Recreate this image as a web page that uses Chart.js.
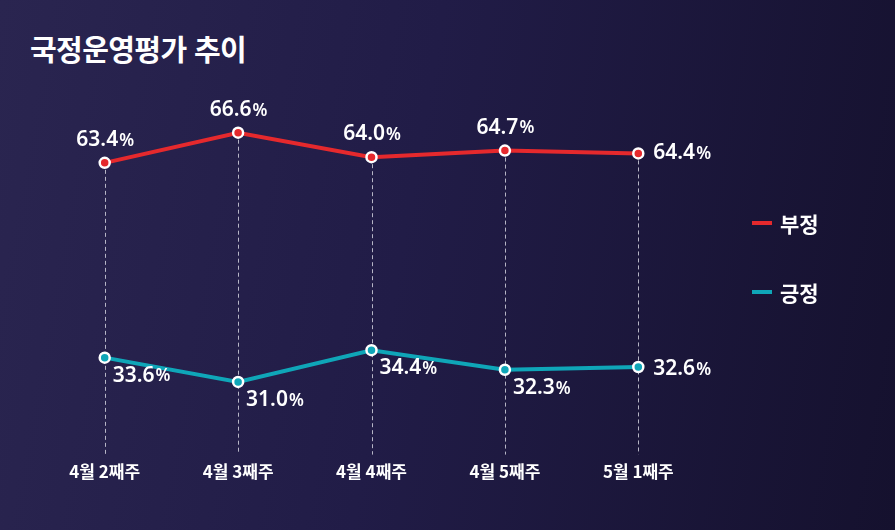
<!DOCTYPE html>
<html lang="ko">
<head>
<meta charset="utf-8">
<script src="https://cdn.jsdelivr.net/npm/chart.js@4/dist/chart.umd.min.js"></script>
<style>
  html, body {
    margin: 0;
    padding: 0;
  }
  body {
    width: 895px;
    height: 530px;
    overflow: hidden;
    background: linear-gradient(100deg, #2a2550 0%, #211c47 45%, #15112e 100%);
    font-family: "Noto Sans CJK KR", "Noto Sans", sans-serif;
    position: relative;
  }
  .title {
    position: absolute;
    left: 30px;
    top: 27px;
    margin: 0;
    color: #ffffff;
    font-size: 29px;
    font-weight: 700;
    letter-spacing: -0.6px;
    line-height: 42px;
  }
  .chart-wrap {
    position: absolute;
    left: 0;
    top: 0;
    width: 895px;
    height: 530px;
  }
  .legend {
    position: absolute;
    left: 752px;
    top: 207px;
    color: #ffffff;
    font-size: 21px;
    font-weight: 700;
  }
  .legend-item {
    display: flex;
    align-items: center;
    height: 32px;
    margin-bottom: 37px;
  }
  .legend-swatch {
    width: 20px;
    height: 4px;
    margin-right: 8px;
  }
</style>
</head>
<body>
<h1 class="title">국정운영평가 추이</h1>
<div class="chart-wrap"><canvas id="trendChart" width="895" height="530"></canvas></div>
<div class="legend" id="legend"></div>

<script>
const weeks = ["4월 2째주", "4월 3째주", "4월 4째주", "4월 5째주", "5월 1째주"];
const negativeValues = [63.4, 66.6, 64.0, 64.7, 64.4];
const positiveValues = [33.6, 31.0, 34.4, 32.3, 32.6];
const seriesNames = ["부정", "긍정"];
const seriesColors = ["#e5292d", "#0fa6b8"];

/* legend */

const legend = document.getElementById("legend");

seriesNames.forEach((name, i) => {
  const item = document.createElement("div");
  item.className = "legend-item";
  const swatch = document.createElement("span");
  swatch.className = "legend-swatch";
  swatch.style.background = seriesColors[i];
  const text = document.createElement("span");
  text.textContent = name;
  item.appendChild(swatch);
  item.appendChild(text);
  legend.appendChild(item);
});

/* dashed guide from the top point down to the axis */

const guideLines = {
  id: "guideLines",
  beforeDatasetsDraw(chart) {
    const ctx = chart.ctx;
    const meta = chart.getDatasetMeta(0);
    const bottom = chart.chartArea.bottom;

    ctx.save();
    ctx.strokeStyle = "rgba(220, 220, 230, 0.8)";
    ctx.lineWidth = 1;
    ctx.setLineDash([4, 3]);
    meta.data.forEach((point) => {
      const x = Math.round(point.x) + 0.5;
      ctx.beginPath();
      ctx.moveTo(x, point.y);
      ctx.lineTo(x, bottom);
      ctx.stroke();
    });
    ctx.restore();
  },
};

/* value labels */

const numFont = "600 21px 'Noto Sans', sans-serif";
const pctFont = "600 17px 'Noto Sans', sans-serif";

function drawValue(ctx, value, x, y, align) {
  const num = value.toFixed(1);
  ctx.font = numFont;
  const numWidth = ctx.measureText(num).width;
  ctx.font = pctFont;
  const pctWidth = ctx.measureText("%").width;
  const total = numWidth + pctWidth;

  let left = x;
  if (align === "center") {
    left = x - total / 2;
  }

  ctx.textAlign = "left";
  ctx.textBaseline = "middle";
  ctx.fillStyle = "#ffffff";
  ctx.font = numFont;
  ctx.fillText(num, left, y);
  ctx.font = pctFont;
  ctx.fillText("%", left + numWidth + 1, y + 1);
}

const valueLabels = {
  id: "valueLabels",
  afterDatasetsDraw(chart) {
    const ctx = chart.ctx;
    const last = weeks.length - 1;

    ctx.save();
    chart.getDatasetMeta(0).data.forEach((point, i) => {
      const value = negativeValues[i];
      if (i === last) {
        drawValue(ctx, value, point.x + 15, point.y, "left");
      } else {
        drawValue(ctx, value, point.x, point.y - 23, "center");
      }
    });

    chart.getDatasetMeta(1).data.forEach((point, i) => {
      const value = positiveValues[i];
      if (i === last) {
        drawValue(ctx, value, point.x + 15, point.y + 2, "left");
      } else {
        drawValue(ctx, value, point.x + 8, point.y + 18, "left");
      }
    });
    ctx.restore();
  },
};

const trendCanvas = document.getElementById("trendChart");

new Chart(trendCanvas, {
  type: "line",
  data: {
    labels: weeks,
    datasets: [
      {
        label: seriesNames[0],
        data: negativeValues,
        yAxisID: "yNeg",
        borderColor: seriesColors[0],
        backgroundColor: seriesColors[0],
        borderWidth: 4,
        tension: 0,
        pointRadius: 5,
        pointBorderWidth: 2.5,
        pointBorderColor: "#ffffff",
        pointBackgroundColor: seriesColors[0],
      },
      {
        label: seriesNames[1],
        data: positiveValues,
        yAxisID: "yPos",
        borderColor: seriesColors[1],
        backgroundColor: seriesColors[1],
        borderWidth: 4,
        tension: 0,
        pointRadius: 5,
        pointBorderWidth: 2.5,
        pointBorderColor: "#ffffff",
        pointBackgroundColor: seriesColors[1],
      },
    ],
  },
  options: {
    responsive: false,
    animation: false,
    layout: {
      padding: {
        left: 38,
        right: 190,
        top: 100,
        bottom: 41,
      },
    },
    plugins: {
      legend: {
        display: false,
      },
      tooltip: {
        enabled: false,
      },
    },
    scales: {
      x: {
        offset: true,
        grid: {
          display: false,
          drawTicks: false,
        },
        border: {
          display: false,
        },
        ticks: {
          padding: 7,
          color: "#ffffff",
          font: {
            family: "'Noto Sans CJK KR', sans-serif",
            size: 17,
            weight: "700",
          },
        },
      },
      yNeg: {
        display: false,
        min: 32.44,
        max: 70.07,
      },
      yPos: {
        display: false,
        min: 23.2,
        max: 61.24,
      },
    },
  },
  plugins: [guideLines, valueLabels],
});
</script>
</body>
</html>
